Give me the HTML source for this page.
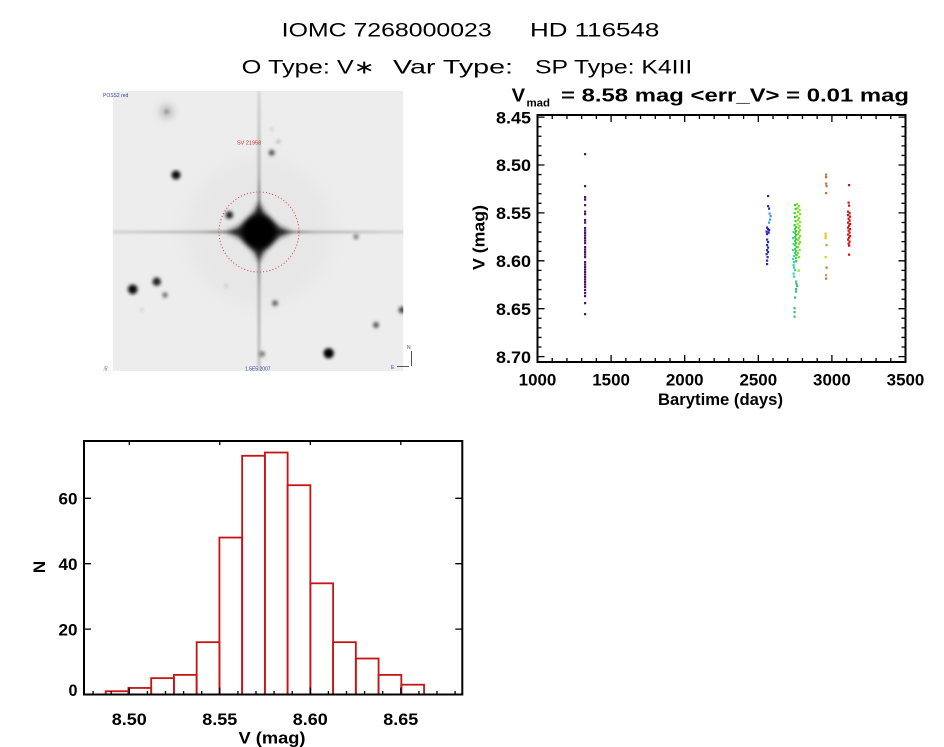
<!DOCTYPE html>
<html><head><meta charset="utf-8">
<style>
html,body{margin:0;padding:0;background:#fff;}
svg{display:block;}
text{font-family:"Liberation Sans","DejaVu Sans",sans-serif;fill:#000;white-space:pre;}
.b{font-weight:bold;}
</style></head><body>
<svg width="944" height="747" viewBox="0 0 944 747" xmlns="http://www.w3.org/2000/svg">
<defs>
<filter id="b1" x="-50%" y="-50%" width="200%" height="200%"><feGaussianBlur stdDeviation="1.1"/></filter>
<filter id="b15" x="-50%" y="-50%" width="200%" height="200%"><feGaussianBlur stdDeviation="1.6"/></filter>
<filter id="b2" x="-50%" y="-50%" width="200%" height="200%"><feGaussianBlur stdDeviation="2.6"/></filter>
<filter id="b4" x="-50%" y="-50%" width="200%" height="200%"><feGaussianBlur stdDeviation="4"/></filter>
<filter id="b8" x="-50%" y="-50%" width="200%" height="200%"><feGaussianBlur stdDeviation="9"/></filter>
<clipPath id="img"><rect x="112.7" y="91" width="290.6" height="280"/></clipPath>
<linearGradient id="gh" x1="0" y1="0" x2="1" y2="0">
<stop offset="0" stop-color="#d6d6d6"/><stop offset="0.3" stop-color="#bcbcbc"/><stop offset="0.42" stop-color="#8a8a8a"/><stop offset="0.5" stop-color="#555"/><stop offset="0.58" stop-color="#8a8a8a"/><stop offset="0.7" stop-color="#bcbcbc"/><stop offset="1" stop-color="#d6d6d6"/>
</linearGradient>
<linearGradient id="gv" x1="0" y1="0" x2="0" y2="1">
<stop offset="0" stop-color="#d6d6d6"/><stop offset="0.3" stop-color="#b8b8b8"/><stop offset="0.42" stop-color="#888"/><stop offset="0.5" stop-color="#555"/><stop offset="0.58" stop-color="#888"/><stop offset="0.7" stop-color="#b4b4b4"/><stop offset="1" stop-color="#c8c8c8"/>
</linearGradient>
</defs>

<!-- Titles -->
<text x="281.7" y="36.7" font-size="19.5" textLength="210" lengthAdjust="spacingAndGlyphs">IOMC 7268000023</text>
<text x="530" y="36.7" font-size="19.5" textLength="129.3" lengthAdjust="spacingAndGlyphs">HD 116548</text>
<text x="241.7" y="73.3" font-size="19" textLength="133.3" lengthAdjust="spacingAndGlyphs">O Type: V∗</text>
<text x="393" y="73.3" font-size="19" textLength="120" lengthAdjust="spacingAndGlyphs">Var Type:</text>
<text x="535" y="73.3" font-size="19" textLength="157.3" lengthAdjust="spacingAndGlyphs">SP Type: K4III</text>

<!-- Star image -->
<g clip-path="url(#img)">
<rect x="112.7" y="91" width="290.6" height="280" fill="#ededed"/>
<circle cx="259" cy="232" r="74" fill="#e7e7e7" filter="url(#b8)"/>
<rect x="112" y="230.4" width="292" height="3.2" fill="url(#gh)" filter="url(#b1)"/>
<rect x="257.4" y="90" width="3.2" height="282" fill="url(#gv)" filter="url(#b1)"/>
<path d="M226,232 Q251,225 259,202 Q267,225 292,232 Q267,239 259,262 Q251,239 226,232 Z" fill="#1a1a1a" filter="url(#b2)"/>
<circle cx="259" cy="232" r="17" fill="#000" filter="url(#b2)"/>
<circle cx="259" cy="232" r="12" fill="#000"/>
<!-- other stars -->
<circle cx="166.7" cy="111.7" r="7" fill="#bcbcbc" filter="url(#b4)"/>
<circle cx="166.7" cy="111.7" r="2.5" fill="#9c9c9c" filter="url(#b1)"/>
<g filter="url(#b15)">
<circle cx="176" cy="175" r="4.5" fill="#111"/>
<circle cx="271.7" cy="152.7" r="3" fill="#555"/>
<circle cx="278.3" cy="141.7" r="1.8" fill="#aaa"/>
<circle cx="271.7" cy="129.3" r="1.5" fill="#bbb"/>
<circle cx="229.3" cy="215" r="3.8" fill="#222"/>
<circle cx="356" cy="236.7" r="2.6" fill="#777"/>
<circle cx="156.7" cy="281.7" r="4.2" fill="#222"/>
<circle cx="132.7" cy="289.3" r="4.8" fill="#111"/>
<circle cx="165" cy="295" r="2.6" fill="#666"/>
<circle cx="275" cy="303.3" r="3" fill="#666"/>
<circle cx="402" cy="310" r="3.4" fill="#444"/>
<circle cx="376" cy="325" r="3" fill="#555"/>
<circle cx="328.7" cy="353.3" r="5.2" fill="#050505"/>
<circle cx="262" cy="354" r="3" fill="#777"/>
<circle cx="226" cy="286" r="1.8" fill="#c4c4c4"/>
<circle cx="141.7" cy="310" r="1.8" fill="#cacaca"/>
</g>
<circle cx="259" cy="232" r="40" fill="none" stroke="#c83030" stroke-width="0.9" stroke-dasharray="1 2.2"/>
<text x="237" y="144.5" font-size="5.5" style="fill:#c03030">SV 21958</text>
</g>
<text x="103" y="97" font-size="5" style="fill:#3040a0">POSS2 red</text>
<text x="245" y="370.5" font-size="5" style="fill:#3040a0">1.5E5 2007</text>
<text x="103" y="370.5" font-size="5" style="fill:#3040a0">.5'</text>
<text x="407" y="349" font-size="5" style="fill:#3040a0">N</text>
<text x="391" y="369" font-size="5" style="fill:#3040a0">E</text>
<path d="M411.5,351 V366 M397,366.5 H409" stroke="#223" stroke-width="0.8" fill="none"/>

<!-- Scatter plot -->
<text x="511.7" y="101.7" font-size="18.5" class="b" textLength="13.5" lengthAdjust="spacingAndGlyphs">V</text>
<text x="526.5" y="106.5" font-size="11" class="b" textLength="23.5" lengthAdjust="spacingAndGlyphs">mad</text>
<text x="561" y="101.7" font-size="18.5" class="b" textLength="348" lengthAdjust="spacingAndGlyphs">= 8.58 mag &lt;err_V&gt; = 0.01 mag</text>

<rect x="537.5" y="115" width="368" height="247" fill="none" stroke="#000" stroke-width="2"/>
<path stroke="#000" stroke-width="1.3" fill="none" d="
M611.1,362v-7M684.7,362v-7M758.3,362v-7M831.9,362v-7
M552.22,362v-4M566.94,362v-4M581.66,362v-4M596.38,362v-4M625.82,362v-4M640.54,362v-4M655.26,362v-4M669.98,362v-4M699.42,362v-4M714.14,362v-4M728.86,362v-4M743.58,362v-4M773.02,362v-4M787.74,362v-4M802.46,362v-4M817.18,362v-4M846.62,362v-4M861.34,362v-4M876.06,362v-4M890.78,362v-4
M611.1,115v7M684.7,115v7M758.3,115v7M831.9,115v7
M552.22,115v4M566.94,115v4M581.66,115v4M596.38,115v4M625.82,115v4M640.54,115v4M655.26,115v4M669.98,115v4M699.42,115v4M714.14,115v4M728.86,115v4M743.58,115v4M773.02,115v4M787.74,115v4M802.46,115v4M817.18,115v4M846.62,115v4M861.34,115v4M876.06,115v4M890.78,115v4
M537.5,117.1h7M537.5,165h7M537.5,212.9h7M537.5,260.8h7M537.5,308.7h7M537.5,356.6h7
M537.5,126.68h4M537.5,136.26h4M537.5,145.84h4M537.5,155.42h4M537.5,174.58h4M537.5,184.16h4M537.5,193.74h4M537.5,203.32h4M537.5,222.48h4M537.5,232.06h4M537.5,241.64h4M537.5,251.22h4M537.5,270.38h4M537.5,279.96h4M537.5,289.54h4M537.5,299.12h4M537.5,318.28h4M537.5,327.86h4M537.5,337.44h4M537.5,347.02h4
M905.5,117.1h-7M905.5,165h-7M905.5,212.9h-7M905.5,260.8h-7M905.5,308.7h-7M905.5,356.6h-7
M905.5,126.68h-4M905.5,136.26h-4M905.5,145.84h-4M905.5,155.42h-4M905.5,174.58h-4M905.5,184.16h-4M905.5,193.74h-4M905.5,203.32h-4M905.5,222.48h-4M905.5,232.06h-4M905.5,241.64h-4M905.5,251.22h-4M905.5,270.38h-4M905.5,279.96h-4M905.5,289.54h-4M905.5,299.12h-4M905.5,318.28h-4M905.5,327.86h-4M905.5,337.44h-4M905.5,347.02h-4"/>

<g font-size="17" class="b" text-anchor="end">
<text x="531" y="123.3" textLength="35" lengthAdjust="spacingAndGlyphs">8.45</text>
<text x="531" y="171.2" textLength="35" lengthAdjust="spacingAndGlyphs">8.50</text>
<text x="531" y="219.1" textLength="35" lengthAdjust="spacingAndGlyphs">8.55</text>
<text x="531" y="267" textLength="35" lengthAdjust="spacingAndGlyphs">8.60</text>
<text x="531" y="314.9" textLength="35" lengthAdjust="spacingAndGlyphs">8.65</text>
<text x="531" y="362.8" textLength="35" lengthAdjust="spacingAndGlyphs">8.70</text>
</g>
<g font-size="17" class="b" text-anchor="middle">
<text x="537.5" y="385.5" textLength="37.7" lengthAdjust="spacingAndGlyphs">1000</text>
<text x="611.1" y="385.5" textLength="37.7" lengthAdjust="spacingAndGlyphs">1500</text>
<text x="684.7" y="385.5" textLength="37.7" lengthAdjust="spacingAndGlyphs">2000</text>
<text x="758.3" y="385.5" textLength="37.7" lengthAdjust="spacingAndGlyphs">2500</text>
<text x="831.9" y="385.5" textLength="37.7" lengthAdjust="spacingAndGlyphs">3000</text>
<text x="905.5" y="385.5" textLength="37.7" lengthAdjust="spacingAndGlyphs">3500</text>
<text x="720.5" y="405" textLength="125" lengthAdjust="spacingAndGlyphs">Barytime (days)</text>
</g>
<text class="b" font-size="17" text-anchor="middle" transform="translate(484.5,237.5) rotate(-90)" textLength="65" lengthAdjust="spacingAndGlyphs">V (mag)</text>

<!-- scatter points -->
<path fill="#4e156a" d="M584,153h2.2v2.2h-2.2zM584,185h2.2v2.2h-2.2zM584,196h2.2v2.2h-2.2zM584,198.5h2.2v2.2h-2.2zM584,204h2.2v2.2h-2.2zM584,210.5h2.2v2.2h-2.2zM584,213h2.2v2.2h-2.2zM584,219h2.2v2.2h-2.2zM584,221.5h2.2v2.2h-2.2zM584,227h2.2v2.2h-2.2zM584,229.5h2.2v2.2h-2.2zM584,232h2.2v2.2h-2.2zM584,234.5h2.2v2.2h-2.2zM584,237h2.2v2.2h-2.2zM584,239.5h2.2v2.2h-2.2zM584,242h2.2v2.2h-2.2zM584,246h2.2v2.2h-2.2zM584,248.5h2.2v2.2h-2.2zM584,251h2.2v2.2h-2.2zM584,253.5h2.2v2.2h-2.2zM584,256h2.2v2.2h-2.2zM584,261h2.2v2.2h-2.2zM584,263.5h2.2v2.2h-2.2zM584,266h2.2v2.2h-2.2zM584,268.5h2.2v2.2h-2.2zM584,271h2.2v2.2h-2.2zM584,273.5h2.2v2.2h-2.2zM584,276h2.2v2.2h-2.2zM584,278.5h2.2v2.2h-2.2zM584,281h2.2v2.2h-2.2zM584,283.5h2.2v2.2h-2.2zM584,286h2.2v2.2h-2.2zM584,289h2.2v2.2h-2.2zM584,292h2.2v2.2h-2.2zM584,295h2.2v2.2h-2.2zM584,302h2.2v2.2h-2.2zM584,313h2.2v2.2h-2.2z"/>
<path fill="#2a2a9a" d="M767,195h2.2v2.2h-2.2z"/>
<path fill="#2838b8" d="M767,205h2.2v2.2h-2.2zM768,207.5h2.2v2.2h-2.2z"/>
<path fill="#3aa0dc" d="M768.5,212.5h2.2v2.2h-2.2zM769.5,215h2.2v2.2h-2.2zM769,218.5h2.2v2.2h-2.2zM768,221.5h2.2v2.2h-2.2z"/>
<path fill="#2424c8" d="M766,226.5h2.2v2.2h-2.2zM767,228h2.2v2.2h-2.2zM768,229h2.2v2.2h-2.2zM765.5,230.5h2.2v2.2h-2.2zM767.5,231.5h2.2v2.2h-2.2zM766,233h2.2v2.2h-2.2z"/>
<path fill="#3030a8" d="M766,238.5h2.2v2.2h-2.2zM767,241h2.2v2.2h-2.2zM766,244h2.2v2.2h-2.2zM767,246.5h2.2v2.2h-2.2zM766,249h2.2v2.2h-2.2zM767,251h2.2v2.2h-2.2zM765.5,253h2.2v2.2h-2.2zM766.5,256h2.2v2.2h-2.2zM766,259.5h2.2v2.2h-2.2zM766,263h2.2v2.2h-2.2z"/>
<path fill="#86e028" d="M796,203h2.2v2.2h-2.2zM798,205h2.2v2.2h-2.2zM796.5,207h2.2v2.2h-2.2zM798.5,209h2.2v2.2h-2.2zM797,211h2.2v2.2h-2.2zM799,213h2.2v2.2h-2.2zM796,215h2.2v2.2h-2.2zM798,217h2.2v2.2h-2.2zM797,219h2.2v2.2h-2.2zM799,221h2.2v2.2h-2.2zM796.5,223h2.2v2.2h-2.2zM798.5,225h2.2v2.2h-2.2zM797.5,227h2.2v2.2h-2.2zM799,229h2.2v2.2h-2.2zM798,231h2.2v2.2h-2.2zM797,233h2.2v2.2h-2.2zM799,235h2.2v2.2h-2.2zM798,237h2.2v2.2h-2.2zM797,239h2.2v2.2h-2.2zM799,241h2.2v2.2h-2.2zM798,243h2.2v2.2h-2.2zM797,246h2.2v2.2h-2.2zM798.5,249h2.2v2.2h-2.2zM797,252h2.2v2.2h-2.2zM798,256h2.2v2.2h-2.2zM797.5,269.5h2.2v2.2h-2.2z"/>
<path fill="#3cd048" d="M794,204h2.2v2.2h-2.2zM794.5,208h2.2v2.2h-2.2zM793.5,212h2.2v2.2h-2.2zM794,216h2.2v2.2h-2.2zM794.5,220h2.2v2.2h-2.2zM793.5,224h2.2v2.2h-2.2zM795,226h2.2v2.2h-2.2zM794,228h2.2v2.2h-2.2zM795,230h2.2v2.2h-2.2zM794,232h2.2v2.2h-2.2zM795,234h2.2v2.2h-2.2zM794,236h2.2v2.2h-2.2zM795,238h2.2v2.2h-2.2zM794,240h2.2v2.2h-2.2zM795,242h2.2v2.2h-2.2zM794,244h2.2v2.2h-2.2zM795.5,246h2.2v2.2h-2.2zM794,248h2.2v2.2h-2.2zM795,250h2.2v2.2h-2.2zM794,252h2.2v2.2h-2.2zM795.5,254h2.2v2.2h-2.2zM795,257h2.2v2.2h-2.2zM795,260h2.2v2.2h-2.2z"/>
<path fill="#34d8a8" d="M792.5,231h2.2v2.2h-2.2zM792,237h2.2v2.2h-2.2zM792.5,243h2.2v2.2h-2.2zM792,249h2.2v2.2h-2.2zM793,255h2.2v2.2h-2.2zM792,258h2.2v2.2h-2.2zM793,261h2.2v2.2h-2.2zM792.5,264h2.2v2.2h-2.2zM793,266.5h2.2v2.2h-2.2zM794,269h2.2v2.2h-2.2zM792.5,272.5h2.2v2.2h-2.2zM793,275.5h2.2v2.2h-2.2z"/>
<path fill="#40c070" d="M795,280.5h2.2v2.2h-2.2zM795.5,283h2.2v2.2h-2.2zM796,285h2.2v2.2h-2.2zM795,288h2.2v2.2h-2.2zM795,290.5h2.2v2.2h-2.2zM794,296.5h2.2v2.2h-2.2zM793.5,307h2.2v2.2h-2.2zM793.5,311h2.2v2.2h-2.2zM793.5,315.5h2.2v2.2h-2.2z"/>
<path fill="#d07030" d="M825,173.5h2.2v2.2h-2.2zM825,176h2.2v2.2h-2.2zM825,182.5h2.2v2.2h-2.2zM825.5,185h2.2v2.2h-2.2zM825,192h2.2v2.2h-2.2zM825.5,266.5h2.2v2.2h-2.2zM825,277.5h2.2v2.2h-2.2z"/>
<path fill="#e8c820" d="M824.5,232.5h2.2v2.2h-2.2zM824.5,235h2.2v2.2h-2.2zM824.5,237h2.2v2.2h-2.2zM824.5,256h2.2v2.2h-2.2z"/>
<path fill="#d8983a" d="M825.5,244h2.2v2.2h-2.2zM825,274h2.2v2.2h-2.2z"/>
<path fill="#d01818" d="M848,184h2.2v2.2h-2.2zM847.5,201.5h2.2v2.2h-2.2zM848,204.5h2.2v2.2h-2.2zM847,210.5h2.2v2.2h-2.2zM848.5,212h2.2v2.2h-2.2zM847,214h2.2v2.2h-2.2zM849,215.5h2.2v2.2h-2.2zM847.5,217.5h2.2v2.2h-2.2zM848.5,219.5h2.2v2.2h-2.2zM847,221.5h2.2v2.2h-2.2zM849,223h2.2v2.2h-2.2zM848,224.5h2.2v2.2h-2.2zM847,226.5h2.2v2.2h-2.2zM849,228h2.2v2.2h-2.2zM847.5,229.5h2.2v2.2h-2.2zM848.5,231.5h2.2v2.2h-2.2zM847,233.5h2.2v2.2h-2.2zM849,235h2.2v2.2h-2.2zM848,236.5h2.2v2.2h-2.2zM847,238.5h2.2v2.2h-2.2zM848.5,240.5h2.2v2.2h-2.2zM847.5,242.5h2.2v2.2h-2.2zM848,244.5h2.2v2.2h-2.2zM848,253.5h2.2v2.2h-2.2z"/>

<!-- Histogram -->
<g fill="none" stroke="#c81414" stroke-width="1.8">
<rect x="105.7" y="691.23" width="22.74" height="3.27"/>
<rect x="128.44" y="687.96" width="22.74" height="6.54"/>
<rect x="151.18" y="678.15" width="22.74" height="16.35"/>
<rect x="173.92" y="674.88" width="22.74" height="19.62"/>
<rect x="196.66" y="642.18" width="22.74" height="52.32"/>
<rect x="219.4" y="537.54" width="22.74" height="156.96"/>
<rect x="242.14" y="455.79" width="22.74" height="238.71"/>
<rect x="264.88" y="452.52" width="22.74" height="241.98"/>
<rect x="287.62" y="485.22" width="22.74" height="209.28"/>
<rect x="310.36" y="583.32" width="22.74" height="111.18"/>
<rect x="333.1" y="642.18" width="22.74" height="52.32"/>
<rect x="355.84" y="658.53" width="22.74" height="35.97"/>
<rect x="378.58" y="674.88" width="22.74" height="19.62"/>
<rect x="401.32" y="684.69" width="22.74" height="9.81"/>
</g>
<rect x="84" y="441" width="378.3" height="253.5" fill="none" stroke="#000" stroke-width="2"/>
<path stroke="#000" stroke-width="1.3" fill="none" d="
M129.3,694.5v-7M219.8,694.5v-7M310.3,694.5v-7M400.8,694.5v-7
M93.1,694.5v-3.5M111.2,694.5v-3.5M147.4,694.5v-3.5M165.5,694.5v-3.5M183.6,694.5v-3.5M201.7,694.5v-3.5M237.9,694.5v-3.5M256,694.5v-3.5M274.1,694.5v-3.5M292.2,694.5v-3.5M328.4,694.5v-3.5M346.5,694.5v-3.5M364.6,694.5v-3.5M382.7,694.5v-3.5M418.9,694.5v-3.5M437,694.5v-3.5M455.1,694.5v-3.5
M129.3,441v4M219.8,441v4M310.3,441v4M400.8,441v4
M84,629.1h7M84,563.7h7M84,498.3h7
M462.3,629.1h-7M462.3,563.7h-7M462.3,498.3h-7"/>
<g font-size="17" class="b" text-anchor="end">
<text x="77.5" y="696" textLength="9" lengthAdjust="spacingAndGlyphs">0</text>
<text x="77.5" y="635.5" textLength="19" lengthAdjust="spacingAndGlyphs">20</text>
<text x="77.5" y="570" textLength="19" lengthAdjust="spacingAndGlyphs">40</text>
<text x="77.5" y="504.5" textLength="19" lengthAdjust="spacingAndGlyphs">60</text>
</g>
<g font-size="17" class="b" text-anchor="middle">
<text x="129.3" y="725" textLength="35" lengthAdjust="spacingAndGlyphs">8.50</text>
<text x="219.8" y="725" textLength="35" lengthAdjust="spacingAndGlyphs">8.55</text>
<text x="310.3" y="725" textLength="35" lengthAdjust="spacingAndGlyphs">8.60</text>
<text x="400.8" y="725" textLength="35" lengthAdjust="spacingAndGlyphs">8.65</text>
<text x="272" y="743.5" textLength="67" lengthAdjust="spacingAndGlyphs">V (mag)</text>
</g>
<text class="b" font-size="17" text-anchor="middle" transform="translate(45,567) rotate(-90)">N</text>
</svg>
</body></html>
